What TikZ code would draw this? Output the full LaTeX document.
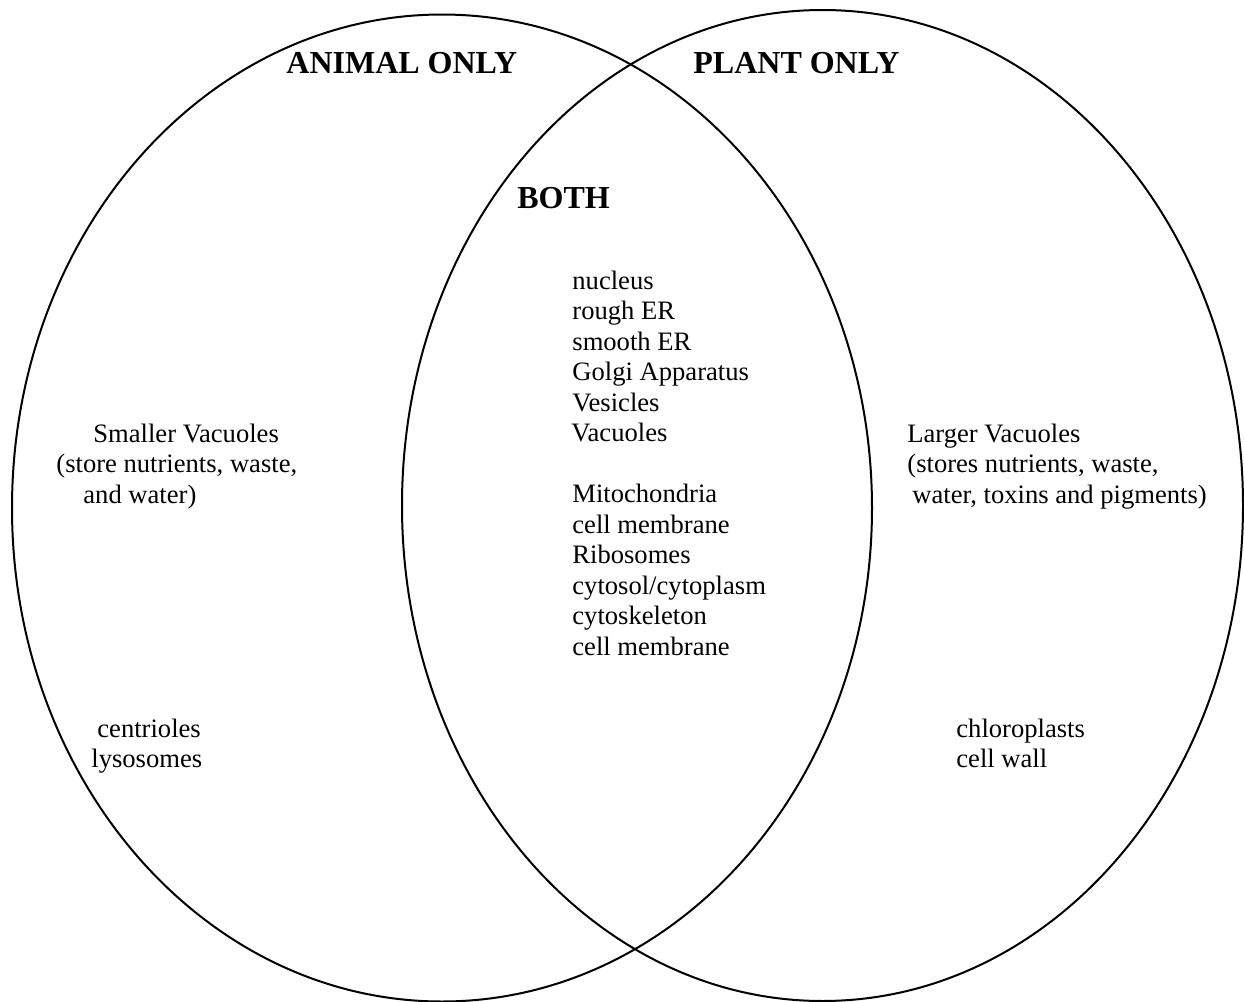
\documentclass[tikz,border=0pt]{standalone}
\usepackage{fontspec}
\setmainfont{Liberation Serif}
\usepackage{tikz}

\begin{document}
\begin{tikzpicture}[
        x=0.5pt, y=-0.5pt,
        every node/.style={inner sep=0pt,anchor=base west,align=left,
          font=\fontsize{13.3}{15.25}\selectfont},
        heading/.style={font=\fontsize{16}{18}\selectfont\bfseries},
        ring/.style={draw=black,line width=1pt}]
        \useasboundingbox (0,0) rectangle (1244,1002);
        \draw[ring] (442,508) ellipse [x radius=430, y radius=493.5];
        \draw[ring] (822.5,505.5) ellipse [x radius=420.5, y radius=495.5];
        \node[heading] (animal) at (286,73) {ANIMAL ONLY};
        \node[heading] (plant) at (693,73) {PLANT ONLY};
        \node[heading] (both) at (517,208) {BOTH};
        \node (shared) at (572,655)
          {nucleus\\rough ER\\smooth ER\\Golgi Apparatus\\Vesicles\\\hspace*{-0.5pt}Vacuoles\\[15.25pt]
           Mitochondria\\cell membrane\\Ribosomes\\cytosol/cytoplasm\\cytoskeleton\\cell membrane};
        \node (smallvac) at (56,503)
          {\hspace*{18.5pt}Smaller Vacuoles\\(store nutrients, waste,\\\hspace*{13.5pt}and water)};
        \node (largevac) at (907,503)
          {Larger Vacuoles\\(stores nutrients, waste,\\\hspace*{2.5pt}water, toxins and pigments)};
        \node (animalparts) at (91,767.5) {\hspace*{3pt}centrioles\\lysosomes};
        \node (plantparts) at (956,767.5) {chloroplasts\\cell wall};
      \end{tikzpicture}
\end{document}
